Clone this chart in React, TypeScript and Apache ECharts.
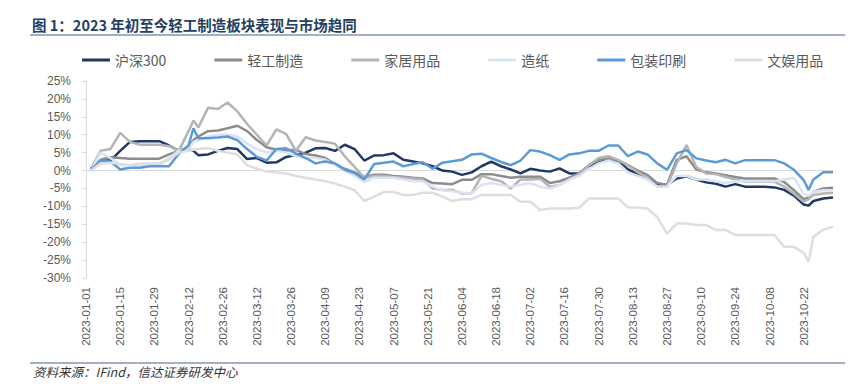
import React, { useEffect, useRef } from "react";
import * as echarts from "echarts";

// day offsets from 2023-01-01
const days = [2, 6, 10, 14, 18, 22, 26, 30, 34, 38, 42, 44, 46, 50, 54, 58, 62, 66, 70, 74, 78, 82, 86, 90, 94, 98, 102, 106, 110, 114, 118, 122, 126, 130, 134, 138, 142, 146, 150, 154, 158, 162, 166, 170, 174, 178, 182, 186, 190, 194, 198, 202, 206, 210, 214, 218, 222, 226, 230, 234, 238, 242, 246, 250, 254, 258, 262, 266, 270, 274, 278, 282, 286, 290, 294, 296, 298, 302, 306];

const hs300 = [0.5, 2.8, 2.8, 5.5, 8, 8.2, 8.2, 8.2, 7, 5.5, 6, 5.5, 4.3, 4.5, 5.5, 6.3, 6, 3.2, 3.5, 2.2, 2.3, 3.8, 4.3, 5, 6.2, 6.3, 5.5, 7.2, 6, 2.8, 4.2, 4.3, 4.8, 3, 2.5, 2, 1.2, 0, -0.3, -1.2, -0.5, 1.2, 2.5, 1.2, 0.3, -0.8, 0.5, 0, -0.3, 0.6, -0.8, -0.8, 1.2, 2.2, 3.2, 2.6, 0.3, -1, -2.2, -3.8, -4, -2.2, -1.6, -2.5, -3.3, -3.7, -4.5, -3.8, -4.5, -4.5, -4.5, -4.7, -5.4, -7, -9.5, -9.8, -8.5, -7.8, -7.5];

const qinggong = [0, 3, 3.7, 3.5, 3.3, 3.3, 3.3, 3.3, 4.5, 5.5, 6.5, 8.5, 9.5, 11, 11.2, 11.8, 12.5, 11, 8.5, 6.5, 5.8, 5.6, 5.8, 4.6, 4.2, 3.5, 1.8, 0.5, -0.5, -1.8, -1.2, -1.2, -1.5, -1.7, -2, -2.2, -3.5, -3.6, -3.8, -2.6, -2.6, -1, -1, -1.5, -2, -1.7, -1.7, -1.7, -3.5, -3, -2, -0.8, 1.5, 3, 3.4, 2.8, 1.5, 0, -1.2, -3.5, -4, 3, 4, 0.3, -0.5, -0.8, -1.3, -1.8, -2.2, -2.2, -2.2, -2.2, -3.2, -5.5, -8, -7.5, -6, -5, -4.8];

const jiaju = [0.5, 5.5, 6, 10.5, 8, 7.2, 7.2, 7.2, 6.8, 5.5, 11, 14, 12, 17.5, 17.2, 19, 16.5, 13, 10, 7, 11.5, 10.2, 5.5, 9.3, 8.4, 8, 7.5, 4, 1, -2, -1.5, -1.5, -1.8, -2, -2.2, -2.5, -5, -5.4, -5.4, -6.4, -6.4, -1.5, -2.3, -3, -5, -2.5, -2.5, -2.3, -4.5, -4, -2.5, -1, 1.5, 3.5, 4, 3, 1.5, -0.5, -2, -4.5, -4.5, 2, 7.1, 1, -0.8, -1, -1.8, -2.5, -3.1, -3.1, -3.1, -3.1, -4.5, -6.5, -8.7, -8, -6.8, -6.4, -6.2];

const zaozhi = [0, 5, 3.5, 1.5, 1.5, 1.5, 1.5, 1.5, 3.5, 5.5, 6, 8, 8.5, 9.5, 10, 10, 9.5, 7.5, 6, 5, 5.5, 5, 4, 3.5, 3.5, 3, 1.5, 0, -1.5, -3.2, -2, -2, -2, -2.5, -3, -3, -4.5, -5.5, -5.8, -6.2, -6.4, -4, -3.5, -4, -4.5, -4, -3.5, -4.5, -5, -4, -2.5, -1.5, 0.5, 2, 2.8, 2, -0.5, -1.5, -2.5, -4.5, -4.5, -1.5, -1.5, -2.5, -2.5, -3, -3.5, -3, -3, -3, -3, -3, -2.5, -2, -6.5, -7, -6, -5.5, -5.5];

const baozhuang = [0.3, 2.7, 2.5, 0.3, 0.8, 0.8, 1.2, 1.2, 1.2, 4.7, 7, 11.8, 9, 9, 9.2, 9.5, 8.5, 6, 3.8, 2.8, 6, 6.2, 4.8, 3.5, 2, 2.5, 2, 0.2, -0.7, -2.5, 1.8, 2.2, 2.5, 1.2, 1.8, 2.3, 0.5, 2.2, 2.6, 3, 4.5, 4.7, 3.5, 2.4, 1.5, 2.8, 5.7, 5.3, 4.3, 3, 4.5, 4.8, 5.5, 5.5, 7, 7, 4, 5.3, 4.5, 2, 0.2, 4.8, 5.7, 3.4, 2.8, 2.3, 3, 2, 2.9, 2.9, 2.9, 2.9, 2, 0.2, -2.7, -5.4, -2.5, -0.5, -0.5];

const wenyu = [0, 2, 2.2, 1.8, 1.5, 2, 2, 2, 3, 5, 5.5, 5.8, 6, 6.3, 5.5, 5, 4.5, 1.5, 0.5, -0.3, -0.5, -0.8, -1.5, -2, -2.5, -3, -3.6, -4.5, -5.5, -8.5, -7.3, -6, -6, -6.8, -6.8, -6.2, -6.2, -7.3, -8.5, -8, -8, -6.8, -6.8, -6.8, -6.8, -8.7, -8.7, -11, -10.6, -10.6, -10.6, -10.4, -7.8, -7.8, -7.8, -7.8, -10.3, -10.3, -10.6, -13, -17.6, -14.8, -14.8, -15.2, -15.2, -16.6, -16.6, -18, -18, -18, -18, -18, -21.3, -21.3, -23, -25.5, -18.5, -16.5, -15.7];

const seriesNames = ["沪深300", "轻工制造", "家居用品", "造纸", "包装印刷", "文娱用品"];
const seriesValues = [hs300, qinggong, jiaju, zaozhi, baozhuang, wenyu];
const seriesColors = ["#1F3864", "#8C8C8C", "#B4B4B4", "#DAE3F3", "#5B9BD5", "#DEDEDE"];

const yTicks = { min: -30, max: 25, step: 5 };
const xRange = { min: 0, max: 306, step: 14 };

const titleText = "图 1：2023 年初至今轻工制造板块表现与市场趋同";
const sourceText = "资料来源：IFind，信达证券研发中心";

const dayToDate = (d: number) => {
  const t = Date.UTC(2023, 0, 1) + Math.round(d) * 86400000;
  return new Date(t).toISOString().slice(0, 10);
};

export default function App() {
  const ref = useRef<HTMLDivElement>(null);
  useEffect(() => {
    document.body.style.margin = "0";
    if (!ref.current) return;
    const chart = echarts.init(ref.current, undefined, { renderer: "svg" });
    const cjk = "'Noto Sans CJK SC', sans-serif";
    const series: any[] = [
      {
        name: "zero",
        type: "line",
        data: [[xRange.min, 0], [xRange.max, 0]],
        symbol: "none",
        silent: true,
        lineStyle: { color: "#D9D9D9", width: 1 },
      },
    ];
    seriesNames.forEach((name, i) => {
      series.push({
        name,
        type: "line",
        data: days.map((d, j) => [d, seriesValues[i][j]]),
        symbol: "none",
        lineStyle: { color: seriesColors[i], width: 2.5 },
        itemStyle: { color: seriesColors[i] },
      });
    });
    chart.setOption({
      animation: false,
      textStyle: { fontFamily: "'Liberation Sans', Arial, sans-serif" },
      legend: {
        data: seriesNames,
        left: 77,
        top: 48,
        icon: "rect",
        itemWidth: 28,
        itemHeight: 3,
        itemGap: 48,
        textStyle: { fontSize: 14, color: "#595959", fontFamily: cjk },
      },
      grid: { left: 86, right: 18, top: 81, bottom: 112 },
      xAxis: {
        type: "value",
        min: xRange.min,
        max: xRange.max,
        interval: xRange.step,
        axisLine: { show: false },
        axisTick: { show: false },
        splitLine: { show: false },
        axisLabel: {
          rotate: 90,
          fontSize: 11.5,
          color: "#595959",
          margin: 9,
          showMaxLabel: false,
          formatter: (v: number) => dayToDate(v),
        },
      },
      yAxis: {
        type: "value",
        min: yTicks.min,
        max: yTicks.max,
        interval: yTicks.step,
        axisLine: { show: true, lineStyle: { color: "#D9D9D9" } },
        axisTick: { show: true, length: 4, lineStyle: { color: "#D9D9D9" } },
        splitLine: { show: false },
        axisLabel: { formatter: "{value}%", fontSize: 12, color: "#595959", margin: 15 },
      },
      graphic: [
        {
          type: "text",
          left: 32,
          top: 17,
          style: { text: titleText, font: "bold 14.5px 'Noto Sans CJK SC'", fill: "#243F60" },
        },
        {
          type: "line",
          shape: { x1: 30, y1: 35, x2: 845, y2: 35 },
          style: { stroke: "#8496B0", lineWidth: 1.5 },
        },
        {
          type: "line",
          shape: { x1: 30, y1: 363, x2: 845, y2: 363 },
          style: { stroke: "#8496B0", lineWidth: 1.5 },
        },
        {
          type: "text",
          left: 33,
          top: 365,
          style: { text: sourceText, font: "italic 12.5px 'Noto Sans CJK SC'", fill: "#333333" },
        },
      ],
      series,
    });
    return () => chart.dispose();
  }, []);
  return <div ref={ref} style={{ width: 851, height: 390 }} />;
}
